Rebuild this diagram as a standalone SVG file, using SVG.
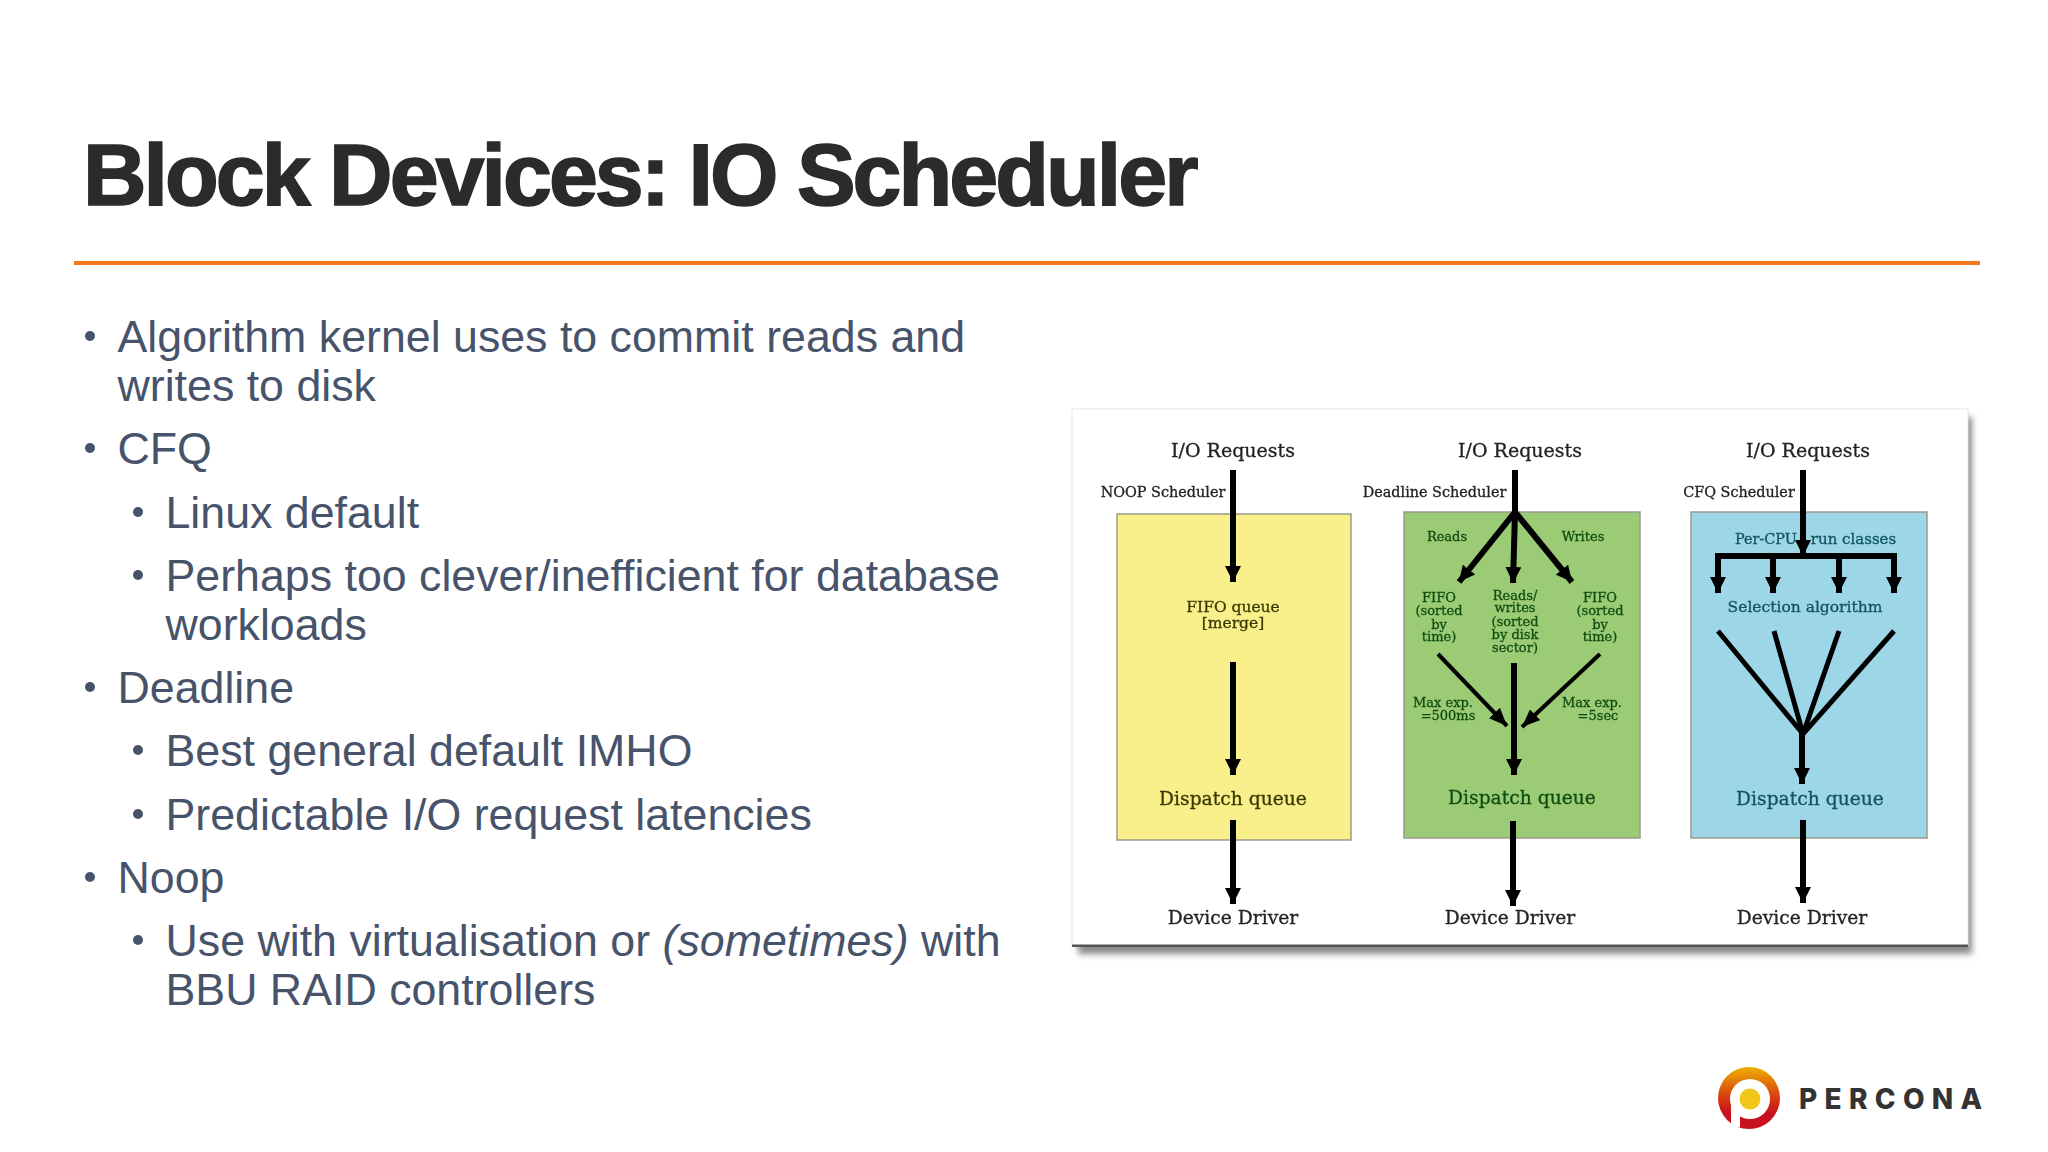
<svg xmlns="http://www.w3.org/2000/svg" width="2048" height="1152" viewBox="0 0 2048 1152">
<style>
.b{font-family:"Liberation Sans",Arial,sans-serif;font-size:44.72px;fill:#47536b}
.d{fill:#47536b}
.s{font-family:"DejaVu Serif",serif;text-anchor:middle;fill:#222;stroke:#222;stroke-width:.3}
.l{font-size:19px}.m{font-size:18.7px}.n{font-size:15.5px}.k{font-size:14.4px}.r{font-size:15px}.t{font-size:13px}
.bx{stroke:#9a9a8a;stroke-width:1.5}
.y{fill:#3a3a05;stroke:#3a3a05}.g{fill:#0f4d12;stroke:#0f4d12}.c{fill:#0f5560;stroke:#0f5560}
.ar{stroke:#000;stroke-width:6;fill:none}
.fn{stroke:#000;stroke-width:5;fill:none}
.th{stroke:#000;stroke-width:4;fill:none}
</style>
<defs>
<marker id="h" markerUnits="userSpaceOnUse" markerWidth="16" markerHeight="16" refX="16" refY="8" orient="auto"><path d="M0 0L16 8L0 16z" fill="#000"/></marker>
<marker id="h2" markerUnits="userSpaceOnUse" markerWidth="18" markerHeight="15" refX="18" refY="7.5" orient="auto"><path d="M0 0L18 7.5L0 15z" fill="#000"/></marker>
<linearGradient id="lg" x1="0" y1="0" x2="0" y2="1"><stop offset="0" stop-color="#eeb000"/><stop offset=".5" stop-color="#d63a12"/><stop offset=".75" stop-color="#c8101e"/></linearGradient>
<filter id="bl" x="-5%" y="-5%" width="110%" height="110%"><feGaussianBlur stdDeviation=".6"/></filter>
<filter id="sh" x="-5%" y="-5%" width="110%" height="110%"><feGaussianBlur stdDeviation="3"/></filter>
</defs>
<rect width="2048" height="1152" fill="#fff"/>
<g id="title"><text x="83" y="205" font-family="Liberation Sans,Arial,sans-serif" font-weight="700" font-size="88" letter-spacing="-3" fill="#2b2b2b" stroke="#2b2b2b" stroke-width="1.6">Block Devices: IO Scheduler</text></g>
<rect id="rule" x="74" y="261" width="1906" height="4" fill="#f9761a"/>
<g id="body">
<circle class="d" cx="90" cy="336" r="5"/><text class="b" x="117.5" y="352">Algorithm kernel uses to commit reads and</text>
<text class="b" x="117.5" y="401">writes to disk</text>
<circle class="d" cx="90" cy="448" r="5"/><text class="b" x="117.5" y="464">CFQ</text>
<circle class="d" cx="138" cy="512" r="5"/><text class="b" x="165.5" y="528">Linux default</text>
<circle class="d" cx="138" cy="575" r="5"/><text class="b" x="165.5" y="591">Perhaps too clever/inefficient for database</text>
<text class="b" x="165.5" y="640">workloads</text>
<circle class="d" cx="90" cy="687" r="5"/><text class="b" x="117.5" y="703">Deadline</text>
<circle class="d" cx="138" cy="750" r="5"/><text class="b" x="165.5" y="766">Best general default IMHO</text>
<circle class="d" cx="138" cy="814" r="5"/><text class="b" x="165.5" y="830">Predictable I/O request latencies</text>
<circle class="d" cx="90" cy="877" r="5"/><text class="b" x="117.5" y="893">Noop</text>
<circle class="d" cx="138" cy="940" r="5"/><text class="b" x="165.5" y="956">Use with virtualisation or <tspan font-style="italic">(sometimes)</tspan> with</text>
<text class="b" x="165.5" y="1005">BBU RAID controllers</text>
</g>
<g id="figure">
<rect x="1078" y="417" width="894" height="537" fill="#8a8a8a" filter="url(#sh)"/>
<rect x="1072" y="409" width="896" height="537" fill="#fff" stroke="#e4e4e4"/>
<rect x="1072" y="944.500" width="896" height="2.500" fill="#555" filter="url(#bl)"/>
<g filter="url(#bl)">
<g id="noop">
<rect class="bx" x="1117" y="514" width="234" height="326" fill="#f9f08c"/>
<text class="s l" x="1233" y="457">I/O Requests</text>
<text class="s k" x="1163" y="496.500">NOOP Scheduler</text>
<text class="s n y" x="1233" y="612">FIFO queue</text>
<text class="s n y" x="1233" y="628">[merge]</text>
<text class="s m y" x="1233" y="805">Dispatch queue</text>
<text class="s m" x="1233" y="924">Device Driver</text>
</g>
<g id="deadline">
<rect class="bx" x="1404" y="512" width="236" height="326" fill="#9ccb74"/>
<text class="s l" x="1520" y="457">I/O Requests</text>
<text class="s k" x="1434.500" y="496.500">Deadline Scheduler</text>
<text class="s t g" x="1447" y="541">Reads</text>
<text class="s t g" x="1583" y="541">Writes</text>
<text class="s t g" x="1439" y="602">FIFO</text><text class="s t g" x="1439" y="615">(sorted</text><text class="s t g" x="1439" y="629">by</text><text class="s t g" x="1439" y="641">time)</text>
<text class="s t g" x="1515" y="600">Reads/</text><text class="s t g" x="1515" y="612">writes</text><text class="s t g" x="1515" y="626">(sorted</text><text class="s t g" x="1515" y="639">by disk</text><text class="s t g" x="1515" y="652">sector)</text>
<text class="s t g" x="1600" y="602">FIFO</text><text class="s t g" x="1600" y="615">(sorted</text><text class="s t g" x="1600" y="629">by</text><text class="s t g" x="1600" y="641">time)</text>
<text class="s t g" x="1443" y="707">Max exp.</text><text class="s t g" x="1448" y="720">=500ms</text>
<text class="s t g" x="1592" y="707">Max exp.</text><text class="s t g" x="1598" y="720">=5sec</text>
<text class="s m g" x="1522" y="804">Dispatch queue</text>
<text class="s m" x="1510" y="924">Device Driver</text>
</g>
<g id="cfq">
<rect class="bx" x="1691" y="512" width="236" height="326" fill="#9dd6e6"/>
<text class="s l" x="1808" y="457">I/O Requests</text>
<text class="s k" x="1739" y="496.500">CFQ Scheduler</text>
<text class="s k c" x="1766" y="544">Per-CPU</text>
<text class="s r c" x="1853.500" y="544">run classes</text>
<text class="s n c" x="1805" y="612">Selection algorithm</text>
<text class="s m c" x="1810" y="805">Dispatch queue</text>
<text class="s m" x="1802" y="924">Device Driver</text>
</g>
<g id="connectors">
<g marker-end="url(#h)" class="ar">
<path d="M1233 470V582"/><path d="M1233 662V775"/><path d="M1233 820V904"/>
<path d="M1515 470V512L1459 582"/><path d="M1515 512L1513 583"/><path d="M1515 512L1572 582"/>
<path d="M1514 663V775"/><path d="M1513 821V906"/>
<path d="M1803 470V556"/>
<path d="M1718 556V593"/><path d="M1773 556V593"/><path d="M1839 556V593"/><path d="M1894 556V593"/>
<path d="M1802 730V784"/><path d="M1803 820V903"/>
</g>
<path class="ar" d="M1715 556H1897"/>
<path class="th" marker-end="url(#h2)" d="M1438 654L1507 726"/>
<path class="th" marker-end="url(#h2)" d="M1600 654L1522 727"/>
<path class="fn" d="M1718 631L1803 734L1894 631M1774 631L1803 734L1839 631"/>
</g>
</g>
</g>
<g id="logo">
<circle cx="1749" cy="1098" r="31" fill="url(#lg)"/>
<circle cx="1750" cy="1099" r="20" fill="#fff"/>
<rect x="1731" y="1098" width="9" height="29" fill="#fff"/>
<circle cx="1750" cy="1099" r="10.5" fill="#f2c618"/>
<text x="1799" y="1109" font-family="Inter,Liberation Sans,sans-serif" font-weight="800" font-size="28" letter-spacing="7.3" fill="#333">PERCONA</text>
</g>
</svg>
